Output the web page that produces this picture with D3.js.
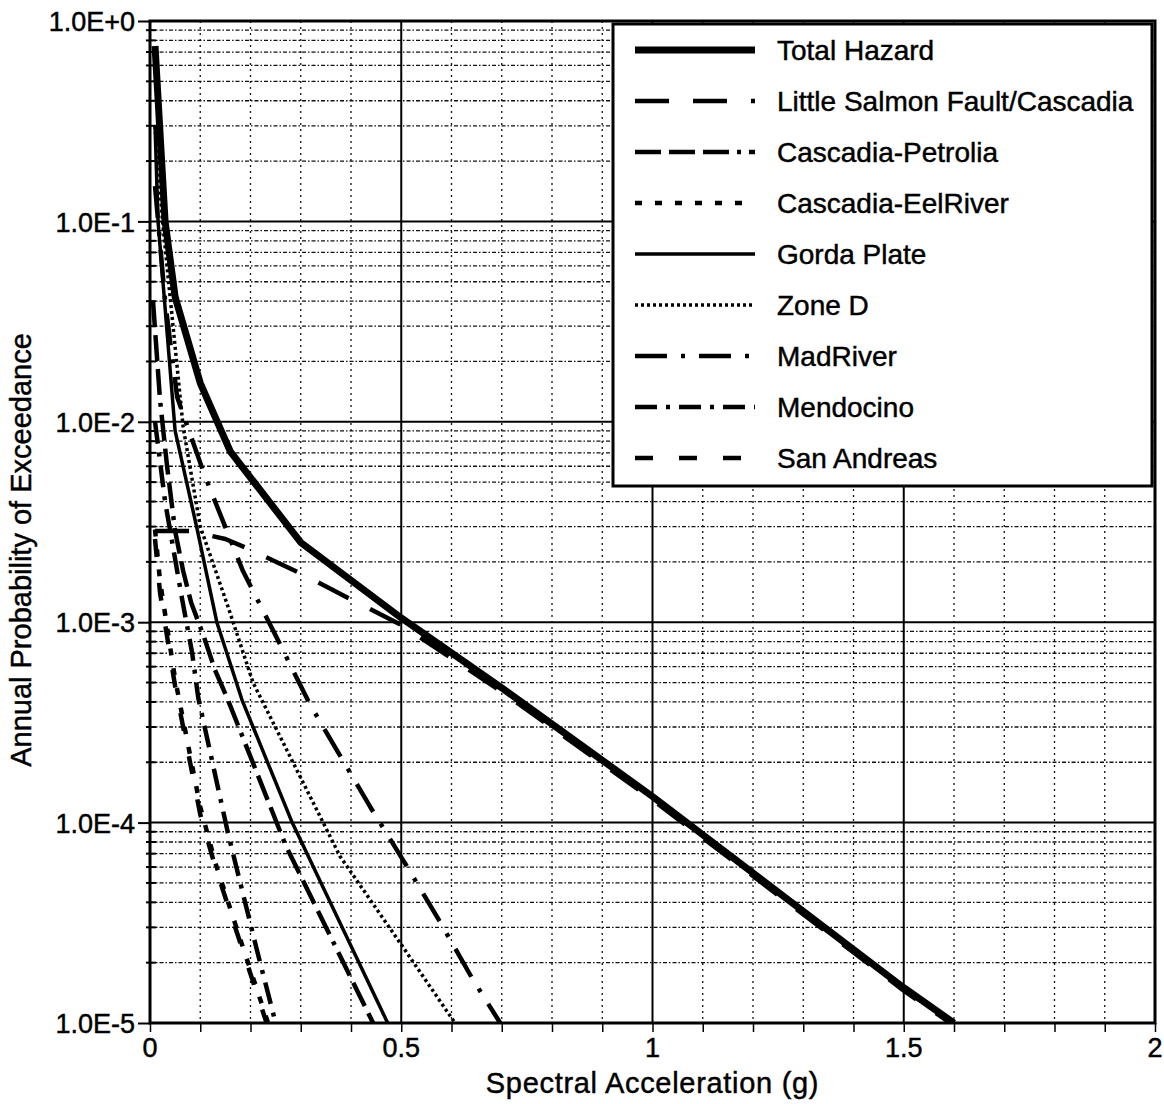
<!DOCTYPE html>
<html>
<head>
<meta charset="utf-8">
<script src="https://cdn.jsdelivr.net/npm/d3@7/dist/d3.min.js"></script>
<style>
  body { margin: 0; background: #fff; }
  text { font-family: "Liberation Sans", Arial, Helvetica, sans-serif; fill: #000; stroke: #000; stroke-width: 0.45px; }
</style>
</head>
<body>
<div id="chart"></div>
<script>
// tick values and labels
var xTicks = [0, 0.5, 1, 1.5, 2];
var xTickLabels = ["0", "0.5", "1", "1.5", "2"];
var yTicks = [1, 1e-1, 1e-2, 1e-3, 1e-4, 1e-5];
var yTickLabels = ["1.0E+0", "1.0E-1", "1.0E-2", "1.0E-3", "1.0E-4", "1.0E-5"];

// hazard curves, [spectral acceleration (g), annual probability]
var totalHazard = [[0.01, 0.75], [0.03, 0.1], [0.05, 0.042], [0.1, 0.0156], [0.16, 0.0071],
  [0.3, 0.0025], [0.5, 0.00105], [0.7, 0.00047], [1.0, 0.000135], [1.5, 0.000015], [1.6, 0.00001]];
var littleSalmon = [[0.01, 0.00285], [0.08, 0.00285], [0.15, 0.0026], [0.2, 0.0023], [0.3, 0.00175],
  [0.4, 0.0013], [0.5, 0.00097], [0.7, 0.00045], [1.0, 0.00013], [1.5, 0.0000145], [1.6, 0.0000097]];
var cascadiaPetrolia = [[0.006, 0.04], [0.02, 0.0128], [0.034, 0.006], [0.05, 0.00285], [0.066, 0.0018],
  [0.082, 0.00125], [0.107, 0.00085], [0.129, 0.00058], [0.155, 0.00041], [0.27, 0.000077], [0.444, 0.00001]];
var cascadiaEelRiver = [[0.01, 0.0029], [0.02, 0.0016], [0.05, 0.00052], [0.1, 0.00012],
  [0.13, 0.000063], [0.18, 0.000026], [0.235, 0.00001]];
var gordaPlate = [[0.01, 0.3], [0.016, 0.1], [0.05, 0.009], [0.094, 0.0029], [0.133, 0.001],
  [0.183, 0.00041], [0.283, 0.0001], [0.473, 0.00001]];
var zoneD = [[0.01, 0.3], [0.025, 0.1], [0.066, 0.0094], [0.1, 0.003], [0.155, 0.0012],
  [0.205, 0.0005], [0.378, 0.000068], [0.503, 0.000024], [0.607, 0.00001]];
var madRiver = [[0.01, 0.15], [0.03, 0.04], [0.054, 0.0133], [0.11, 0.0053], [0.185, 0.0018],
  [0.245, 0.00091], [0.318, 0.00039], [0.438, 0.00012], [0.507, 0.000063], [0.577, 0.000032],
  [0.643, 0.0000164], [0.697, 0.00001]];
var mendocino = [[0.01, 0.01], [0.03, 0.004], [0.064, 0.0013], [0.084, 0.0007], [0.096, 0.00042],
  [0.155, 0.000089], [0.213, 0.000023], [0.25, 0.00001]];
var sanAndreas = [[0.01, 0.0026], [0.02, 0.0014], [0.05, 0.00048], [0.1, 0.00011], [0.13, 0.00006],
  [0.18, 0.000025], [0.232, 0.00001]];

var seriesNames = ["Total Hazard", "Little Salmon Fault/Cascadia", "Cascadia-Petrolia",
  "Cascadia-EelRiver", "Gorda Plate", "Zone D", "MadRiver", "Mendocino", "San Andreas"];
var seriesData = [totalHazard, littleSalmon, cascadiaPetrolia, cascadiaEelRiver,
  gordaPlate, zoneD, madRiver, mendocino, sanAndreas];

// line styles, same order as the names
var styles = [
  { w: 7, dash: null },
  { w: 4.5, dash: "34,24" },
  { w: 4.5, dash: "26,8,26,8,26,8,4,8" },
  { w: 4.5, dash: "7,13" },
  { w: 3.5, dash: null },
  { w: 3.5, dash: "3,3" },
  { w: 4.5, dash: "32,14,4,14" },
  { w: 4.5, dash: "22,9,4,9" },
  { w: 4.5, dash: "18,26" }
];

function base() {
  var W = 1164, H = 1104;
  var m = { left: 150, right: 9, top: 21, bottom: 81 };
  var w = W - m.left - m.right;
  var h = H - m.top - m.bottom;

  var svg = d3.select("#chart").append("svg")
    .attr("width", W)
    .attr("height", H);

  var g = svg.append("g").attr("transform", "translate(" + m.left + "," + m.top + ")");

  var x = d3.scaleLinear().domain([0, 2]).range([0, w]);
  var y = d3.scaleLog().domain([1e-5, 1]).range([h, 0]);

  // minor grid
  var xMinor = d3.range(1, 20).map(function(i) { return i / 10; })
    .filter(function(v) { return Math.abs(v * 2 - Math.round(v * 2)) > 1e-9; });
  var yMinor = [];
  for (var e = -5; e < 0; e++) {
    for (var k = 2; k <= 9; k++) yMinor.push(k * Math.pow(10, e));
  }

  g.selectAll(".vminor").data(xMinor).enter().append("line")
    .attr("x1", function(d) { return x(d); })
    .attr("x2", function(d) { return x(d); })
    .attr("y1", 0).attr("y2", h)
    .attr("stroke", "#111").attr("stroke-width", 1.3)
    .attr("stroke-dasharray", "2,4");

  g.selectAll(".hminor").data(yMinor).enter().append("line")
    .attr("x1", 0).attr("x2", w)
    .attr("y1", function(d) { return y(d); })
    .attr("y2", function(d) { return y(d); })
    .attr("stroke", "#111").attr("stroke-width", 1.3)
    .attr("stroke-dasharray", "4,2,1.5,2");

  // major grid
  g.selectAll(".vmajor").data([0.5, 1, 1.5]).enter().append("line")
    .attr("x1", function(d) { return x(d); })
    .attr("x2", function(d) { return x(d); })
    .attr("y1", 0).attr("y2", h)
    .attr("stroke", "#000").attr("stroke-width", 2);

  g.selectAll(".hmajor").data([1e-1, 1e-2, 1e-3, 1e-4]).enter().append("line")
    .attr("x1", 0).attr("x2", w)
    .attr("y1", function(d) { return y(d); })
    .attr("y2", function(d) { return y(d); })
    .attr("stroke", "#000").attr("stroke-width", 2);

  // axes
  var xAxis = d3.axisBottom(x).tickValues(d3.range(0, 21).map(function(i) { return i / 10; }))
    .tickSize(9).tickFormat("");
  var gx = g.append("g").attr("transform", "translate(0," + h + ")").call(xAxis);
  gx.selectAll("line").attr("stroke", "#000").attr("stroke-width", 1.5);
  gx.select(".domain").remove();

  g.selectAll(".xlab").data(xTicks).enter().append("text")
    .attr("x", function(d) { return x(d); })
    .attr("y", h + 34)
    .attr("text-anchor", "middle")
    .style("font-size", "27px")
    .text(function(d, i) { return xTickLabels[i]; });

  var yAxis = d3.axisLeft(y).tickValues(yTicks).tickSize(12).tickFormat(function(d, i) { return yTickLabels[i]; });
  var gy = g.append("g").call(yAxis);
  gy.select(".domain").remove();
  gy.selectAll("line").attr("stroke", "#000").attr("stroke-width", 2);
  gy.selectAll("text").style("font-size", "27px").attr("x", -15).attr("dy", "0.36em")
    .style("font-family", "'Liberation Sans', Arial, sans-serif");

  g.selectAll(".yminortick").data(yMinor).enter().append("line")
    .attr("x1", -4).attr("x2", 6)
    .attr("y1", function(d) { return y(d); })
    .attr("y2", function(d) { return y(d); })
    .attr("stroke", "#000").attr("stroke-width", 2);

  // curves
  var line = d3.line()
    .x(function(d) { return x(d[0]); })
    .y(function(d) { return y(d[1]); });

  g.append("clipPath").attr("id", "plotclip")
    .append("rect").attr("width", w).attr("height", h);

  g.selectAll(".curve").data(seriesData).enter().append("path")
    .attr("clip-path", "url(#plotclip)")
    .attr("d", line)
    .attr("fill", "none")
    .attr("stroke", "#000")
    .attr("stroke-width", function(d, i) { return styles[i].w; })
    .attr("stroke-dasharray", function(d, i) { return styles[i].dash; })
    .attr("stroke-linejoin", "round");

  // legend
  var lg = svg.append("g").attr("transform", "translate(613,24)");
  lg.append("rect").attr("width", 539).attr("height", 462)
    .attr("fill", "#fff").attr("stroke", "#000").attr("stroke-width", 3);
  var items = lg.selectAll(".item").data(seriesNames).enter().append("g")
    .attr("transform", function(d, i) { return "translate(0," + (26 + i * 51) + ")"; });
  items.append("line")
    .attr("x1", 22).attr("x2", 142).attr("y1", 0).attr("y2", 0)
    .attr("stroke", "#000")
    .attr("stroke-width", function(d, i) { return styles[i].w; })
    .attr("stroke-dasharray", function(d, i) { return styles[i].dash; });
  items.append("text")
    .attr("x", 164).attr("dy", "0.36em")
    .style("font-size", "28px")
    .text(function(d) { return d; });

  // frame
  g.append("rect").attr("width", w).attr("height", h)
    .attr("fill", "none").attr("stroke", "#000").attr("stroke-width", 3);

  // axis titles
  svg.append("text")
    .attr("x", m.left + w / 2).attr("y", 1093)
    .attr("text-anchor", "middle")
    .style("font-size", "29px")
    .style("letter-spacing", "0.7px")
    .text("Spectral Acceleration (g)");

  svg.append("text")
    .attr("transform", "translate(31,550) rotate(-90)")
    .attr("text-anchor", "middle")
    .style("font-size", "29px")
    .text("Annual Probability of Exceedance");
}

window.onload = base;
</script>
</body>
</html>
